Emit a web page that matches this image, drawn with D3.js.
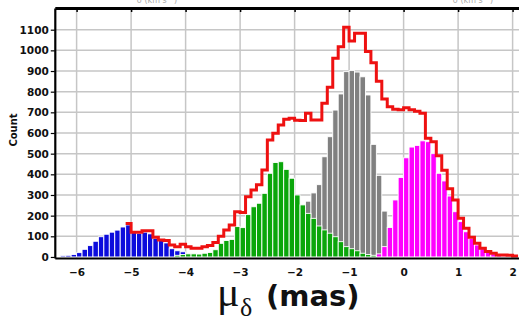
<!DOCTYPE html>
<html>
  <head>
    <script src="https://d3js.org/d3.v7.min.js"></script>
    <style>
      body { margin: 0; background: #fff; }
      svg { display: block; }
      text { font-family: "DejaVu Sans", sans-serif; }
    </style>
  </head>
  <body>
    <svg id="chartSvg" width="519" height="319"></svg>
    <script>
      // histogram bins are 0.1 mas wide, each series listed from its first bin
      var binWidth = 0.1;

      var blueStart = -6.4;
      var blueCounts = [4, 6, 8, 12, 21, 37, 55, 76, 98, 110, 120, 130, 145, 155,
        118, 115, 120, 112, 90, 80, 68, 40, 30, 25, 12, 6, 3];

      var grayStart = -2.5;
      var grayCounts = [10, 20, 40, 60, 90, 130, 200, 270, 310, 350, 485, 582, 711,
        789, 897, 902, 895, 872, 784, 545, 395, 222, 40];

      var greenStart = -4.2;
      var greenCounts = [8, 12, 15, 15, 14, 18, 22, 35, 66, 80, 85, 147, 142, 205,
        243, 260, 308, 405, 457, 461, 424, 381, 300, 252, 211, 187, 150, 131, 115,
        98, 74, 50, 40, 30, 18, 12, 8, 5, 3];

      var magentaStart = -0.5;
      var magentaCounts = [15, 50, 143, 276, 385, 480, 532, 540, 562, 558, 500, 405,
        368, 295, 219, 171, 122, 90, 58, 40, 26, 15, 8, 5, 4, 3];

      // total (red outline)
      var totalStart = -5.1;
      var totalCounts = [162, 120, 120, 127, 127, 95, 82, 80, 58, 50, 62, 50, 42, 42,
        50, 55, 70, 100, 131, 155, 219, 215, 292, 324, 350, 421, 566, 599, 639, 666,
        671, 662, 660, 696, 663, 663, 744, 821, 962, 1018, 1112, 1045, 1083, 1083,
        994, 940, 850, 765, 727, 715, 712, 722, 712, 705, 696, 575, 558, 490, 420,
        330, 276, 187, 139, 95, 66, 42, 26, 18, 10, 10, 8, 5];

      var xTicks = [-6, -5, -4, -3, -2, -1, 0, 1, 2];
      var yTicks = [0, 100, 200, 300, 400, 500, 600, 700, 800, 900, 1000, 1100];

      var svg = d3.select("#chartSvg");

      var x = d3.scaleLinear().domain([-6.4, 2.2]).range([54.8, 523.5]);
      var y = d3.scaleLinear().domain([-5, 1205]).range([258, 8]);

      // grid
      var grid = svg.append("g").attr("stroke", "#c6c6c6").attr("stroke-width", 1.5);
      grid.selectAll("line.v")
        .data(xTicks)
        .enter()
        .append("line")
        .attr("class", "v")
        .attr("x1", d => x(d)).attr("x2", d => x(d))
        .attr("y1", y.range()[1]).attr("y2", y.range()[0]);
      grid.selectAll("line.h")
        .data(yTicks.slice(1))
        .enter()
        .append("line")
        .attr("class", "h")
        .attr("x1", x.range()[0]).attr("x2", 519)
        .attr("y1", d => y(d)).attr("y2", d => y(d));

      function drawBars(start, counts, color) {
        var bins = counts.map((c, i) => ({lo: start + i * binWidth, n: c}));
        svg.append("g")
          .selectAll("rect")
          .data(bins)
          .enter()
          .append("rect")
          .attr("x", d => x(d.lo))
          .attr("width", x(binWidth) - x(0))
          .attr("y", d => y(d.n))
          .attr("height", d => y(0) - y(d.n))
          .attr("fill", color)
          .attr("stroke", "#fff")
          .attr("stroke-width", 0.9);
      }

      drawBars(grayStart, grayCounts, "#808080");
      drawBars(blueStart, blueCounts, "#0c0cdc");
      drawBars(greenStart, greenCounts, "#0aa60a");
      drawBars(magentaStart, magentaCounts, "#ff00ff");

      // red step outline
      var pts = totalCounts.map((c, i) => [totalStart + i * binWidth, c]);
      pts.push([totalStart + totalCounts.length * binWidth, totalCounts[totalCounts.length - 1]]);
      var stepLine = d3.line()
        .x(d => x(d[0]))
        .y(d => y(d[1]))
        .curve(d3.curveStepAfter);
      svg.append("path")
        .attr("d", stepLine(pts))
        .attr("fill", "none")
        .attr("stroke", "#ee1111")
        .attr("stroke-width", 3)
        .attr("stroke-linejoin", "miter");

      // axes
      var leftAxis = svg.append("g")
        .attr("transform", "translate(" + x.range()[0] + ",0)")
        .call(d3.axisLeft(y).tickValues(yTicks).tickFormat(d3.format("d"))
          .tickSize(4).tickSizeOuter(0).tickPadding(2));
      leftAxis.select(".domain").attr("stroke-width", 2.2);
      leftAxis.selectAll("text").attr("font-size", 10.5).attr("font-weight", "bold").attr("fill", "#111");
      leftAxis.selectAll(".tick line").attr("stroke-width", 1.2);

      var bottomAxis = svg.append("g")
        .attr("transform", "translate(0," + y.range()[0] + ")")
        .call(d3.axisBottom(x).tickValues(xTicks).tickSize(0).tickPadding(11));
      bottomAxis.select(".domain").attr("stroke-width", 2);
      bottomAxis.selectAll("text").attr("font-size", 10.5).attr("font-weight", "bold").attr("fill", "#111");

      var topAxis = svg.append("g")
        .attr("transform", "translate(0," + y.range()[1] + ")")
        .call(d3.axisBottom(x).tickValues(xTicks).tickSize(4).tickSizeOuter(0).tickFormat(""));
      topAxis.select(".domain").attr("stroke-width", 2.8);
      topAxis.selectAll(".tick line").attr("stroke-width", 1.5);

      // cropped labels of the panel above
      svg.append("text").attr("x", 157).attr("y", 3).attr("text-anchor", "middle")
        .attr("font-size", 8).attr("fill", "#aaa").text("σ (km s⁻¹)");
      svg.append("text").attr("x", 473).attr("y", 3).attr("text-anchor", "middle")
        .attr("font-size", 8).attr("fill", "#aaa").text("σ (km s⁻¹)");

      svg.append("text")
        .attr("transform", "translate(17,130) rotate(-90)")
        .attr("text-anchor", "middle")
        .attr("font-size", 10)
        .attr("font-weight", "bold")
        .attr("fill", "#111")
        .text("Count");

      // x title: mu_delta (mas)
      svg.append("text").attr("x", 217).attr("y", 306)
        .style("font-family", "'Liberation Serif', serif")
        .attr("font-size", 42).attr("fill", "#111").text("μ");
      svg.append("text").attr("x", 240).attr("y", 316)
        .style("font-family", "'Liberation Serif', serif")
        .attr("font-size", 26).attr("fill", "#111").text("δ");
      svg.append("text").attr("x", 266).attr("y", 306)
        .attr("font-size", 29).attr("font-weight", "bold").attr("fill", "#111").text("(mas)");
    </script>
  </body>
</html>
